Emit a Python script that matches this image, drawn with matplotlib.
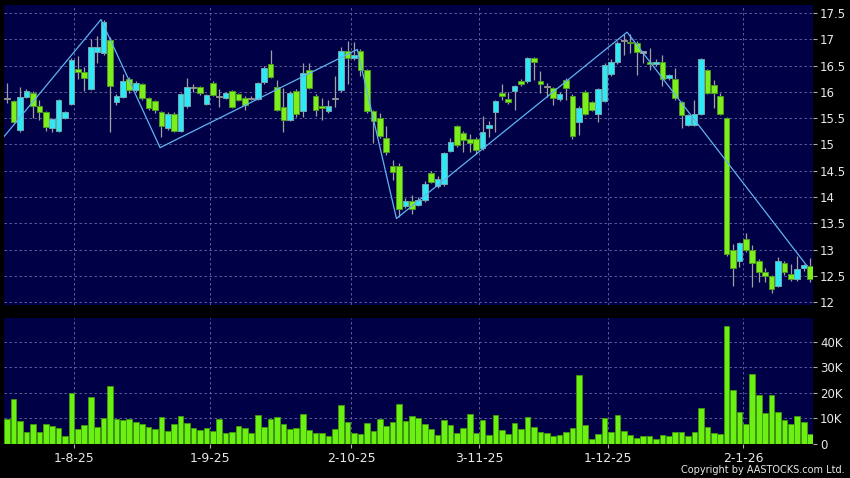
import matplotlib
matplotlib.use("Agg")
import matplotlib.pyplot as plt
from matplotlib.ticker import FuncFormatter

# daily candles, index 0 = first trading day shown
OPEN = [15.87, 15.82, 15.28, 15.90, 15.99, 15.73, 15.61, 15.31, 15.26, 15.50,
        15.77, 16.43, 16.39, 16.05, 16.76, 16.74, 16.99, 15.80, 15.91, 16.24,
        16.03, 16.16, 15.88, 15.82, 15.61, 15.31, 15.59, 15.26, 15.73, 16.09,
        16.09, 15.78, 16.17, 15.91, 15.88, 16.01, 15.96, 15.89, 15.87, 15.86,
        16.19, 16.53, 16.10, 15.71, 15.47, 16.01, 15.64, 16.41, 15.93, 15.74,
        15.64, 15.87, 16.03, 16.79, 16.64, 16.79, 16.41, 15.63, 15.50, 15.12,
        14.59, 14.59, 13.83, 13.92, 13.85, 13.94, 14.45, 14.21, 14.24, 14.88,
        15.35, 15.21, 15.10, 15.10, 14.94, 15.31, 15.61, 15.99, 15.87, 16.01,
        16.21, 16.21, 16.64, 16.21, 16.11, 16.07, 15.86, 16.22, 15.93, 15.42,
        16.00, 15.80, 15.58, 15.83, 16.34, 16.57, 16.98, 16.96, 16.93, 16.76,
        16.58, 16.53, 16.58, 16.26, 16.24, 15.80, 15.37, 15.37, 15.59, 16.41,
        16.13, 15.93, 15.50, 13.00, 12.78, 13.20, 13.00, 12.79, 12.58, 12.50,
        12.30, 12.75, 12.53, 12.43, 12.64, 12.69]
HIGH = [16.17, 15.85, 16.09, 16.05, 16.02, 15.85, 15.63, 15.50, 15.87, 15.63,
        16.65, 16.68, 16.48, 17.00, 17.06, 17.38, 17.05, 15.96, 16.35, 16.28,
        16.20, 16.18, 15.90, 15.84, 15.63, 15.62, 15.61, 15.98, 16.26, 16.15,
        16.12, 15.96, 16.20, 16.05, 16.00, 16.04, 15.98, 15.93, 15.93, 16.19,
        16.50, 16.80, 16.23, 16.08, 16.02, 16.05, 16.55, 16.56, 15.96, 15.88,
        15.84, 16.30, 16.85, 16.98, 16.95, 16.81, 16.43, 15.66, 15.60, 15.36,
        14.70, 14.64, 13.98, 14.03, 14.00, 14.30, 14.50, 14.40, 14.86, 15.12,
        15.38, 15.25, 15.20, 15.14, 15.55, 15.45, 15.85, 16.16, 16.00, 16.14,
        16.24, 16.66, 16.66, 16.40, 16.18, 16.10, 16.00, 16.27, 15.96, 15.74,
        16.03, 15.82, 16.08, 16.55, 16.62, 16.97, 17.10, 17.10, 16.98, 16.78,
        16.84, 16.62, 16.70, 16.35, 16.45, 15.82, 15.58, 15.84, 16.65, 16.43,
        16.22, 15.98, 15.52, 13.10, 13.15, 13.31, 13.08, 12.82, 12.64, 12.52,
        12.85, 12.78, 12.73, 12.88, 12.72, 12.84]
LOW = [15.79, 15.40, 15.23, 15.88, 15.50, 15.47, 15.25, 15.24, 15.24, 15.48,
       15.75, 16.25, 16.02, 16.03, 16.55, 16.70, 15.23, 15.76, 15.88, 15.98,
       16.00, 15.85, 15.65, 15.60, 15.15, 15.28, 15.24, 15.24, 15.70, 16.00,
       15.95, 15.76, 15.92, 15.72, 15.86, 15.69, 15.83, 15.66, 15.84, 15.84,
       16.15, 16.26, 15.64, 15.24, 15.44, 15.52, 15.53, 16.05, 15.55, 15.47,
       15.60, 15.72, 16.00, 16.15, 16.60, 16.30, 15.60, 15.02, 15.13, 14.80,
       14.32, 13.62, 13.80, 13.68, 13.82, 13.90, 14.26, 14.18, 14.21, 14.86,
       14.95, 14.86, 14.86, 14.82, 14.90, 15.15, 15.24, 15.85, 15.78, 15.66,
       16.12, 16.18, 16.23, 15.98, 15.91, 15.75, 15.82, 15.85, 15.11, 15.18,
       15.56, 15.63, 15.43, 15.80, 16.31, 16.54, 16.70, 16.75, 16.32, 16.55,
       16.42, 16.50, 16.11, 16.23, 15.85, 15.31, 15.35, 15.35, 15.57, 15.97,
       15.69, 15.56, 12.88, 12.31, 12.67, 12.95, 12.29, 12.39, 12.39, 12.18,
       12.28, 12.52, 12.40, 12.40, 12.60, 12.39]
CLOSE = [15.87, 15.42, 15.90, 16.01, 15.73, 15.61, 15.34, 15.48, 15.85, 15.61,
         16.61, 16.39, 16.26, 16.85, 16.85, 17.34, 16.12, 15.93, 16.20, 16.03,
         16.17, 15.89, 15.69, 15.65, 15.35, 15.59, 15.26, 15.96, 16.09, 16.09,
         15.98, 15.94, 15.94, 15.91, 15.98, 15.71, 15.85, 15.76, 15.87, 16.17,
         16.45, 16.28, 15.66, 15.47, 15.99, 15.59, 16.37, 16.07, 15.66, 15.69,
         15.74, 15.87, 16.79, 16.64, 16.70, 16.42, 15.63, 15.44, 15.16, 14.86,
         14.47, 13.78, 13.93, 13.77, 13.94, 14.24, 14.28, 14.34, 14.83, 15.05,
         14.99, 15.09, 15.03, 14.90, 15.24, 15.38, 15.83, 15.93, 15.80, 16.12,
         16.15, 16.64, 16.57, 16.15, 16.11, 15.88, 15.96, 16.07, 15.16, 15.69,
         15.59, 15.66, 16.05, 16.51, 16.57, 16.93, 16.98, 16.93, 16.76, 16.76,
         16.53, 16.57, 16.25, 16.33, 15.88, 15.56, 15.56, 15.58, 16.62, 15.99,
         15.99, 15.59, 12.91, 12.64, 13.12, 13.00, 12.74, 12.58, 12.50, 12.24,
         12.79, 12.57, 12.43, 12.62, 12.70, 12.43]
# volume in thousands
VOLUME = [9.7, 17.5, 8.8, 4.8, 7.8, 4.7, 8.0, 7.0, 6.4, 3.2,
          20.0, 6.0, 7.5, 18.3, 6.6, 10.3, 22.7, 9.9, 9.4, 9.6,
          8.4, 7.8, 6.6, 6.0, 10.6, 5.2, 8.0, 11.0, 8.2, 6.1,
          5.6, 6.2, 5.1, 9.7, 4.3, 4.8, 7.0, 6.4, 4.2, 11.3,
          6.8, 9.9, 10.6, 7.8, 5.7, 6.4, 11.7, 5.5, 4.4, 4.4,
          3.2, 5.8, 15.3, 8.7, 4.3, 3.8, 8.2, 5.1, 9.9, 7.1,
          8.7, 15.6, 9.0, 11.0, 10.3, 8.0, 6.0, 3.6, 9.4, 7.3,
          4.4, 6.2, 11.8, 4.4, 9.5, 3.6, 11.4, 5.5, 3.8, 8.2,
          5.8, 10.5, 6.6, 4.8, 4.3, 3.2, 3.6, 4.7, 6.2, 27.0,
          7.3, 2.0, 4.0, 10.0, 4.5, 11.5, 5.0, 3.5, 2.5, 3.0,
          3.3, 2.0, 3.5, 3.0, 4.5, 4.5, 3.0, 4.5, 14.0, 6.5,
          4.2, 4.0, 46.0, 21.0, 12.5, 8.0, 27.5, 19.0, 12.0, 19.0,
          12.5, 9.5, 8.0, 11.0, 8.5, 4.0]
ZIGZAG_X = [-0.5, 14.6, 23.8, 54.5, 60.6, 96.5, 124.5]
ZIGZAG_Y = [15.15, 17.38, 14.94, 16.81, 13.59, 17.14, 12.69]
DATE_POS = [10.4, 31.5, 53.6, 73.5, 93.6, 114.6]
DATE_LABELS = ['1-8-25', '1-9-25', '2-10-25', '3-11-25', '1-12-25', '2-1-26']
PRICE_TICKS = [12, 12.5, 13, 13.5, 14, 14.5, 15, 15.5, 16, 16.5, 17, 17.5]
VOL_TICKS = [0, 10, 20, 30, 40]

BG = '#000046'
UP = '#2ee8f5'
DOWN = '#7ded1c'
GRID = '#6a6aa8'
TXT = '#e8e8e8'


def style_axes(ax):
    ax.set_facecolor(BG)
    for s in ax.spines.values():
        s.set_visible(False)
    ax.yaxis.tick_right()
    ax.tick_params(axis='y', colors='#aaaaaa', labelcolor=TXT, labelsize=8.5,
                   length=3, pad=2)
    ax.grid(True, color=GRID, linestyle=(0, (3, 3)), linewidth=0.6)
    ax.set_axisbelow(True)
    ax.set_xlim(-0.5, 125.45)
    ax.set_xticks(DATE_POS)


fig = plt.figure(figsize=(8.5, 4.78), dpi=100, facecolor='black')
ax = fig.add_axes([4 / 850, 173 / 478, 809 / 850, 300 / 478])
axv = fig.add_axes([4 / 850, 34 / 478, 809 / 850, 126 / 478])
style_axes(ax)
style_axes(axv)

n = len(OPEN)
xs = list(range(n))
ax.vlines(xs, LOW, HIGH, color='#a0a0a0', linewidth=0.9, zorder=2)
for i in xs:
    o, c = OPEN[i], CLOSE[i]
    if abs(c - o) < 0.005:
        col, ec = '#b0b0b0', '#909090'
        h = 0.025
        b = o - h / 2
    else:
        up = c > o
        col = UP if up else DOWN
        ec = '#6fa8b0' if up else '#4e9a22'
        b = min(o, c)
        h = abs(c - o)
    ax.bar(i, h, bottom=b, width=0.88, color=col, edgecolor=ec,
           linewidth=0.7, zorder=3)

ax.plot(ZIGZAG_X, ZIGZAG_Y, color='#5fb4f0', linewidth=0.9, zorder=4)
ax.set_ylim(11.943, 17.657)
ax.set_yticks(PRICE_TICKS)
ax.yaxis.set_major_formatter(FuncFormatter(lambda v, p: f'{v:g}'))
ax.tick_params(axis='x', length=0, labelbottom=False)

axv.bar(xs, VOLUME, width=0.88, color='#6cf012', edgecolor='#3f9a0c',
        linewidth=0.6, zorder=3)
axv.set_ylim(0, 49.2)
axv.set_yticks(VOL_TICKS)
axv.yaxis.set_major_formatter(FuncFormatter(lambda v, p: '0' if v == 0 else f'{v:g}K'))
axv.set_xticklabels(DATE_LABELS)
axv.tick_params(axis='x', colors='#aaaaaa', labelcolor=TXT, labelsize=9,
                length=3, pad=3)

fig.text(0.994, 0.006, 'Copyright by AASTOCKS.com Ltd.', color=TXT,
         fontsize=7, ha='right', va='bottom')

fig.savefig('out.png', dpi=100, facecolor='black')
